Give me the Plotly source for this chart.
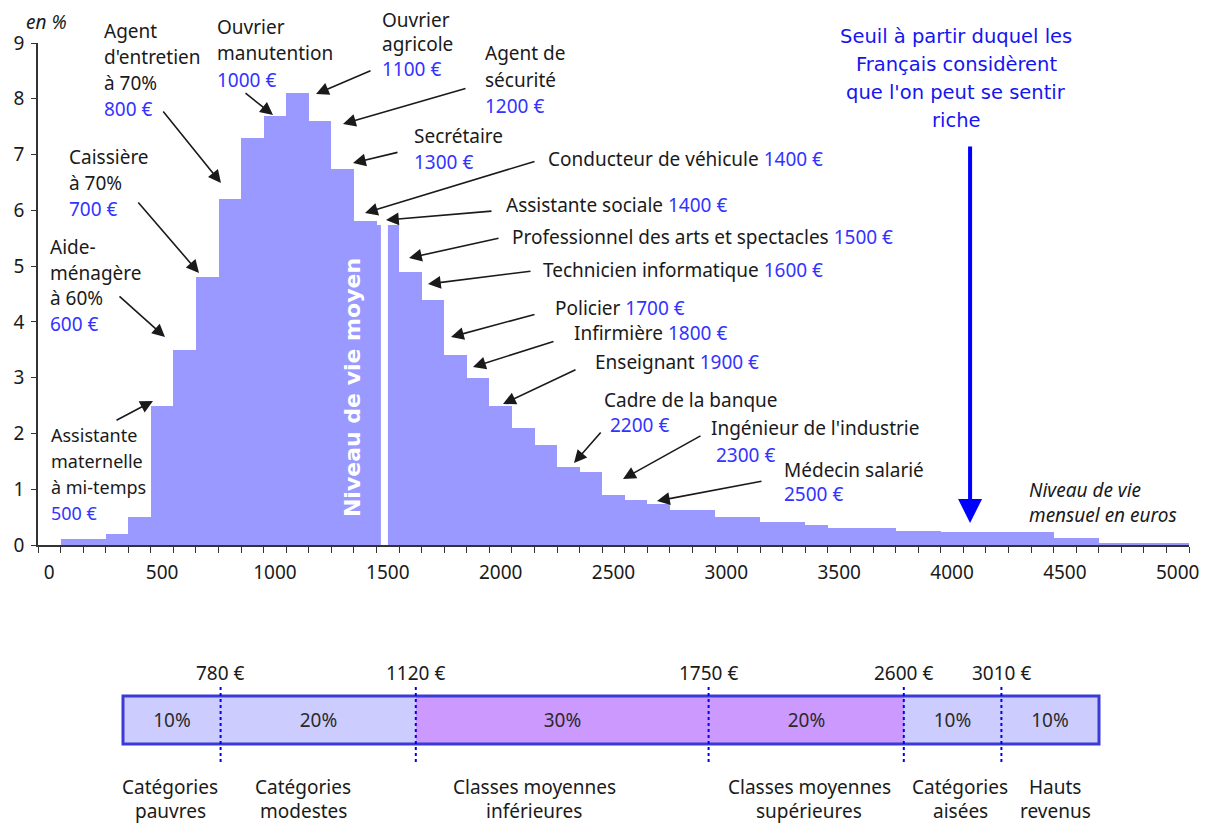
import plotly.graph_objects as go

# ------------------------------------------------------------------ data
bin_edges = [50, 250, 350, 450, 550, 650, 750, 850, 950, 1050, 1150, 1250,
             1350, 1450, 1550, 1650, 1750, 1850, 1950, 2050, 2150, 2250,
             2350, 2450, 2550, 2650, 2750, 2950, 3150, 3350, 3450, 3750,
             3950, 4450, 4650, 5050]
shares_pct = [0.1, 0.2, 0.5, 2.5, 3.5, 4.8, 6.2, 7.3, 7.7, 8.1, 7.6, 6.75,
              5.8, 5.73, 4.9, 4.4, 3.4, 3.0, 2.5, 2.1, 1.8, 1.4, 1.3, 0.9,
              0.8, 0.73, 0.62, 0.5, 0.42, 0.35, 0.3, 0.25, 0.23, 0.12, 0.04]
mean_level = 1485
rich_threshold = 4080
x_tick_vals = [0, 500, 1000, 1500, 2000, 2500, 3000, 3500, 4000, 4500, 5000]
y_tick_vals = [0, 1, 2, 3, 4, 5, 6, 7, 8, 9]

job_names = [
    ["Assistante", "maternelle", "à mi-temps"],
    ["Aide-", "ménagère", "à 60%"],
    ["Caissière", "à 70%"],
    ["Agent", "d'entretien", "à 70%"],
    ["Ouvrier", "manutention"],
    ["Ouvrier", "agricole"],
    ["Agent de", "sécurité"],
    ["Secrétaire"],
    ["Conducteur de véhicule"],
    ["Assistante sociale"],
    ["Professionnel des arts et spectacles"],
    ["Technicien informatique"],
    ["Policier"],
    ["Infirmière"],
    ["Enseignant"],
    ["Cadre de la banque"],
    ["Ingénieur de l'industrie"],
    ["Médecin salarié"],
]
job_salaries = [500, 600, 700, 800, 1000, 1100, 1200, 1300, 1400, 1400,
                1500, 1600, 1700, 1800, 1900, 2200, 2300, 2500]

group_shares = [10, 20, 30, 20, 10, 10]
group_limits = [780, 1120, 1750, 2600, 3010]
group_names = [["Catégories", "pauvres"], ["Catégories", "modestes"],
               ["Classes moyennes", "inférieures"], ["Classes moyennes", "supérieures"],
               ["Catégories", "aisées"], ["Hauts", "revenus"]]
rich_text = ["Seuil à partir duquel les", "Français considèrent",
             "que l'on peut se sentir", "riche"]

# ------------------------------------------------------------------ style
FONT = "Noto Sans"
BLACK = "#1a1a1a"
BLUE_VAL = "#3333ff"
BAR_COLOR = "#9999ff"
group_colors = ["#ccccff", "#ccccff", "#cc99ff", "#cc99ff", "#ccccff", "#ccccff"]

# page has an 8px body margin: the figure starts at (8, 8)
OFF = 8
PAGE_W, PAGE_H = 1211, 823
FW, FH = PAGE_W - OFF, PAGE_H - OFF
# plot area in page pixel coordinates
L, R, T, B = 38, 1189, 43, 760


def px(xp):
    return (xp - L) / (R - L)


def py(yp):
    return (B - yp) / (B - T)


fig = go.Figure()

centers = [(a + b) / 2 for a, b in zip(bin_edges[:-1], bin_edges[1:])]
widths = [b - a for a, b in zip(bin_edges[:-1], bin_edges[1:])]
fig.add_trace(go.Bar(x=centers, y=shares_pct, width=widths,
                     marker=dict(color=BAR_COLOR, line=dict(width=0)),
                     hoverinfo="skip", showlegend=False))

for s, c in zip(group_shares, group_colors):
    fig.add_trace(go.Bar(x=[s], y=[0], orientation="h", width=1,
                         xaxis="x2", yaxis="y2",
                         marker=dict(color=c, line=dict(width=0)),
                         text=[f"{s}%"], textposition="inside",
                         insidetextanchor="middle",
                         textfont=dict(family=FONT, size=19, color="#2a2a2a"),
                         hoverinfo="skip", showlegend=False))

ann = []


def text(xp, yp, s, color=BLACK, size=19, xanchor="left", family=FONT, **kw):
    ann.append(dict(x=px(xp), y=py(yp), xref="paper", yref="paper", text=s,
                    showarrow=False, xanchor=xanchor, yanchor="middle",
                    font=dict(family=family, size=size, color=color), **kw))


def arrow(tail, head, color=BLACK, width=1.6, size=1.6):
    ann.append(dict(x=px(head[0]), y=py(head[1]), xref="paper", yref="paper",
                    ax=tail[0] - head[0], ay=tail[1] - head[1],
                    axref="pixel", ayref="pixel", text="", showarrow=True,
                    arrowhead=2, arrowsize=size, arrowwidth=width,
                    arrowcolor=color, standoff=0, startstandoff=0))


def euro(v):
    return f'<span style="color:{BLUE_VAL}">{v} €</span>'


# layout of job labels: x_left, first line y, line gap, salary inline?, salary x offset, font size, tail, head
job_layout = [
    (49, 435, 26, False, 0, 18, (115, 421), (153, 401)),
    (48, 247, 25.7, False, 0, 19, (118, 295), (165, 337)),
    (67, 157, 26, False, 0, 19, (137, 201), (199, 273)),
    (102, 31, 26, False, 0, 19, (162, 110), (221, 183)),
    (215, 27, 26.5, False, 0, 19, (244, 92), (273, 115)),
    (380, 20, 24.5, False, 0, 19, (372, 70), (316, 94)),
    (483, 53, 26.5, False, 0, 19, (467, 88), (343, 124)),
    (412, 136, 26, False, 0, 19, (399, 152), (353, 163)),
    (546, 159, 0, True, 0, 19, (536, 161), (365, 213)),
    (504, 205, 0, True, 0, 19, (493, 211), (386, 220)),
    (510, 237, 0, True, 0, 19, (500, 238), (409, 258)),
    (541, 270, 0, True, 0, 19, (532, 271), (428, 284)),
    (553, 308, 0, True, 0, 19, (536, 314), (451, 337)),
    (572, 333, 0, True, 0, 19, (555, 341), (473, 367)),
    (593, 362, 0, True, 0, 19, (577, 369), (503, 404)),
    (602, 400, 25, False, 6, 19, (602, 431), (574, 463)),
    (709, 428, 27, False, 5, 19, (702, 435), (623, 479)),
    (782, 470, 24, False, 0, 19, (763, 481), (657, 501)),
]

for names, sal, (x0, y0, gap, inline, soff, fs, tail, head) in zip(job_names, job_salaries, job_layout):
    if inline:
        text(x0, y0, names[0] + " " + euro(sal), size=fs)
    else:
        for i, line in enumerate(names):
            text(x0, y0 + i * gap, line, size=fs)
        text(x0 + soff, y0 + len(names) * gap, euro(sal), size=fs)
    arrow(tail, head)

# axis captions
text(24, 22, "<i>en %</i>")
text(1027, 490, "<i>Niveau de vie</i>")
text(1027, 515, "<i>mensuel en euros</i>")

# rich threshold
for i, line in enumerate(rich_text):
    text(956, 36 + i * 28.3, line, color="#1515f0", size=19.5,
         xanchor="center", family="DejaVu Sans")
ann.append(dict(x=rich_threshold, y=(545 - 523) / 55.78, xref="x", yref="y",
                ax=0, ay=-(523 - 145), axref="pixel", ayref="pixel", text="",
                showarrow=True, arrowhead=2, arrowsize=1.2, arrowwidth=4,
                arrowcolor="#0000ff", standoff=0, startstandoff=0))

# mean level label
ann.append(dict(x=1346, y=2.815, xref="x", yref="y", text="Niveau de vie moyen",
                textangle=-90, showarrow=False, xanchor="center", yanchor="middle",
                font=dict(family="DejaVu Sans", size=22, color="white", weight="bold")))

# bracket labels
cum = []
acc = 0
for s in group_shares[:-1]:
    acc += s
    cum.append(acc)
for c, lim in zip(cum, group_limits):
    ann.append(dict(x=c, y=py(673), xref="x2", yref="paper", text=f"{lim} €",
                    showarrow=False, xanchor="center", yanchor="middle",
                    font=dict(family=FONT, size=19, color=BLACK)))

group_label_x = [170, 303, 534, 809, 960, 1055]
for (l1, l2), gx in zip(group_names, group_label_x):
    text(gx, 787, l1, xanchor="center")
    text(gx, 811, l2, xanchor="center")

shapes = [
    dict(type="line", xref="x", yref="y", x0=mean_level, x1=mean_level,
         y0=0, y1=5.74, line=dict(color="white", width=7)),
    dict(type="rect", xref="x2 domain", yref="y2 domain", x0=0, x1=1, y0=0, y1=1,
         line=dict(color="#3a3ad6", width=3)),
]
for c in cum:
    shapes.append(dict(type="line", xref="x2", yref="paper", x0=c, x1=c,
                       y0=py(687), y1=py(765),
                       line=dict(color="#0000ff", width=2, dash="dot")))

fig.update_layout(
    width=FW, height=FH,
    margin=dict(l=L - OFF, r=PAGE_W - R, t=T - OFF, b=PAGE_H - B, pad=0,
                autoexpand=False),
    paper_bgcolor="white", plot_bgcolor="white",
    barmode="stack", bargap=0,
    font=dict(family=FONT, size=19, color=BLACK),
    xaxis=dict(domain=[0, 1], anchor="y", range=[-50, 5050], automargin=False,
               tickmode="array", tickvals=x_tick_vals,
               ticktext=[str(v) for v in x_tick_vals],
               ticks="outside", ticklen=9, tickcolor="rgba(0,0,0,0)",
               minor=dict(tickmode="array",
                          tickvals=[v + 50 for v in range(-100, 5100, 100)],
                          ticks="outside", ticklen=6, tickwidth=1.3,
                          tickcolor="#333333", showgrid=False),
               showline=True, linecolor="#333333", linewidth=1.5,
               showgrid=False, zeroline=False,
               tickfont=dict(family=FONT, size=19, color=BLACK)),
    yaxis=dict(domain=[py(545), 1], anchor="x", range=[0, 9], automargin=False,
               tickmode="array", tickvals=y_tick_vals,
               ticks="outside", ticklen=5, tickwidth=1.3, tickcolor="#333333",
               ticklabelstandoff=3,
               showline=True, linecolor="#333333", linewidth=1.5,
               showgrid=False, zeroline=False,
               tickfont=dict(family=FONT, size=19, color=BLACK)),
    xaxis2=dict(domain=[px(123), px(1099)], anchor="y2", range=[0, 100],
                visible=False, fixedrange=True, automargin=False),
    yaxis2=dict(domain=[py(744), py(696)], anchor="x2", range=[-0.5, 0.5],
                visible=False, fixedrange=True, automargin=False),
    annotations=ann,
    shapes=shapes,
)

fig.write_html("out.html")
